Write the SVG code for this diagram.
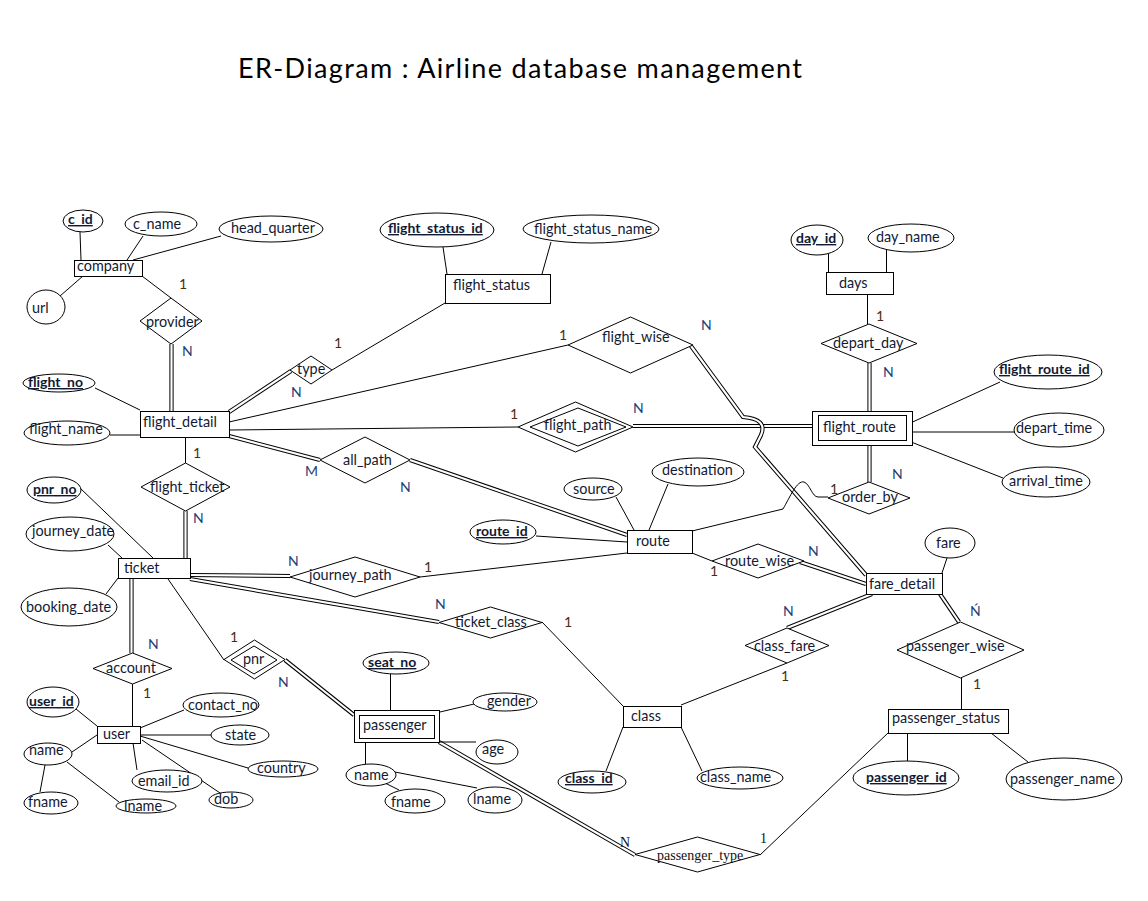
<svg xmlns="http://www.w3.org/2000/svg" xmlns:xlink="http://www.w3.org/1999/xlink" width="1148" height="901" viewBox="0 0 1148 901">
<style>
.s{fill:#fff;stroke:#000;stroke-width:1}
.ln{stroke:#000;stroke-width:1;fill:none}
.dbo{stroke:#000;stroke-width:4.2;fill:none}
.dbi{stroke:#fff;stroke-width:2.2;fill:none}
text{font-family:Lato,"Open Sans","Liberation Sans",sans-serif;font-size:14.4px;fill:#121a33}
.k{font-weight:bold;font-size:14px;text-decoration:underline}
.n{font-size:14px;fill:#1f3f77}
.o{font-size:14px;fill:#4b2e10}
.sf{font-family:"Liberation Serif","Times New Roman",serif;font-size:14px;fill:#111}
.title{font-size:27px;fill:#000}
</style>
<defs>
<path id="d1" d="M171.5,344 V411"/>
<path id="d2" d="M185.5,511 V558"/>
<path id="d3" d="M131.5,578 V653"/>
<path id="d4" d="M229,412 L291,371"/>
<path id="d5" d="M229,436 L320,460"/>
<path id="d6" d="M410,460 L627,535"/>
<path id="d7" d="M633,426 H818"/>
<path id="d8" d="M691,346 L743,417 Q768,419 761,435 L755,447 L866,575"/>
<path id="d9" d="M869.5,363 V411"/>
<path id="d10" d="M869.5,445 V482"/>
<path id="d11" d="M190,575 L290,576"/>
<path id="d12" d="M190,579 L439,622"/>
<path id="d13" d="M285,660 L354,715"/>
<path id="d14" d="M439,742 L635,855"/>
<path id="d15" d="M800,562 L866,584"/>
<path id="d16" d="M872,594 L787,628"/>
<path id="d17" d="M940,594 L959,622"/>
</defs>
<rect width="1148" height="901" fill="#fff"/>
<text class="title" x="238" y="78" textLength="564">ER-Diagram : Airline database management</text>

<g id="connectors">
<use xlink:href="#d1" class="dbo"/><use xlink:href="#d1" class="dbi"/>
<use xlink:href="#d2" class="dbo"/><use xlink:href="#d2" class="dbi"/>
<use xlink:href="#d3" class="dbo"/><use xlink:href="#d3" class="dbi"/>
<use xlink:href="#d4" class="dbo"/><use xlink:href="#d4" class="dbi"/>
<use xlink:href="#d5" class="dbo"/><use xlink:href="#d5" class="dbi"/>
<use xlink:href="#d6" class="dbo"/><use xlink:href="#d6" class="dbi"/>
<use xlink:href="#d7" class="dbo"/><use xlink:href="#d7" class="dbi"/>
<use xlink:href="#d8" class="dbo"/><use xlink:href="#d8" class="dbi"/>
<use xlink:href="#d9" class="dbo"/><use xlink:href="#d9" class="dbi"/>
<use xlink:href="#d10" class="dbo"/><use xlink:href="#d10" class="dbi"/>
<use xlink:href="#d11" class="dbo"/><use xlink:href="#d11" class="dbi"/>
<use xlink:href="#d12" class="dbo"/><use xlink:href="#d12" class="dbi"/>
<use xlink:href="#d13" class="dbo"/><use xlink:href="#d13" class="dbi"/>
<use xlink:href="#d14" class="dbo"/><use xlink:href="#d14" class="dbi"/>
<use xlink:href="#d15" class="dbo"/><use xlink:href="#d15" class="dbi"/>
<use xlink:href="#d16" class="dbo"/><use xlink:href="#d16" class="dbi"/>
<use xlink:href="#d17" class="dbo"/><use xlink:href="#d17" class="dbi"/>
<path class="ln" d="M80,232 L81,260 M143,236 L127,260 M221,236 L133,260 M60,296 L83,276 M142,276 L171,298"/>
<path class="ln" d="M332,370 L445,303 M443,247 L447,274 M551,242 L542,274"/>
<path class="ln" d="M229,422 L568,345 M229,430 L518,427"/>
<path class="ln" d="M95,388 L140,410 M110,435 L140,435 M185.5,437 V463"/>
<path class="ln" d="M80,488 L153,558 M108,545 L122,558 M106,594 L118,578 M168,579 L224,660"/>
<path class="ln" d="M132.5,684 V726 M76,709 L97,726 M72,752 L97,735 M184,710 L140,728 M211,735 H140 M248,768 L140,736 M133,743 L137,770 M142,740 L220,793 M45,765 L40,792 M67,762 L119,802"/>
<path class="ln" d="M390.5,674 V710 M474,704 L440,712 M476,742 H439 M365.5,742 V764 M395,772 L477,788 M385,783 L399,790"/>
<path class="ln" d="M420,577 L627,553 M536,536 L627,542 M616,497 L634,530 M668,484 L649,530 M692,553 L712,561"/>
<path class="ln" d="M692,531 L783,509 C790,497 797,480 804,482 C810,484 812,497 818,497 L828,497"/>
<path class="ln" d="M542,622 L623,706 M681,705 L787,663 M623,727 L606,771 M681,727 L702,771"/>
<path class="ln" d="M828.5,254 V272 M886.5,250 V272 M867.5,294 V324 M906,425 L1000,382 M906,432 H1015 M906,440 L1003,478"/>
<path class="ln" d="M947,558 L942,573 M961.5,678 V709 M907.5,733 V761 M991,733 L1028,762 M888,733 L760,855"/>
</g>

<g id="company"><rect class="s" x="74.5" y="260.5" width="68" height="16"/><text x="77" y="271">company</text></g>
<g id="c_id"><ellipse class="s" cx="83" cy="221" rx="20" ry="11"/><text class="k" x="68" y="224">c_id</text></g>
<g id="c_name"><ellipse class="s" cx="161" cy="224" rx="36" ry="12"/><text x="133" y="229">c_name</text></g>
<g id="head_quarter"><ellipse class="s" cx="271" cy="229" rx="52" ry="13"/><text x="231" y="233">head_quarter</text></g>
<g id="url"><ellipse class="s" cx="46" cy="307" rx="19" ry="17"/><text x="32" y="313">url</text></g>
<g id="provider"><polygon class="s" points="171,298 202,321 171,344 140,321"/><text x="146" y="327">provider</text></g>

<g id="flight_status"><rect class="s" x="445.5" y="274.5" width="105" height="29"/><text x="453" y="290">flight_status</text></g>
<g id="flight_status_id"><ellipse class="s" cx="437" cy="230" rx="57" ry="17"/><text class="k" x="388" y="233">flight_status_id</text></g>
<g id="flight_status_name"><ellipse class="s" cx="591" cy="229" rx="68" ry="14"/><text x="534" y="234">flight_status_name</text></g>
<g id="type"><polygon class="s" points="311,356 332,370 311,384 290,370"/><text x="297" y="374">type</text></g>

<g id="flight_detail"><rect class="s" x="140.5" y="411.5" width="89" height="26"/><text x="143" y="427">flight_detail</text></g>
<g id="flight_no"><ellipse class="s" cx="59" cy="383" rx="36" ry="9"/><text class="k" x="28" y="387">flight_no</text></g>
<g id="flight_name"><ellipse class="s" cx="67" cy="433" rx="43" ry="12"/><text x="29" y="434">flight_name</text></g>
<g id="flight_wise"><polygon class="s" points="630.5,317 693,345 630.5,373 568,345"/><text x="602" y="342">flight_wise</text></g>
<g id="flight_path"><polygon class="s" points="575.5,402 633,427 575.5,452 518,427"/><polygon class="s" points="578,408 626,427 578,446 530,427"/><text x="544" y="430">flight_path</text></g>
<g id="all_path"><polygon class="s" points="365,437 410,460 365,483 320,460"/><text x="343" y="465">all_path</text></g>
<g id="flight_ticket"><polygon class="s" points="185.5,463 230,487 185.5,511 141,487"/><text x="150" y="492">flight_ticket</text></g>

<g id="days"><rect class="s" x="826.5" y="272.5" width="67" height="22"/><text x="839" y="288">days</text></g>
<g id="day_id"><ellipse class="s" cx="817" cy="240" rx="26" ry="15"/><text class="k" x="796" y="243">day_id</text></g>
<g id="day_name"><ellipse class="s" cx="911" cy="238" rx="43" ry="14"/><text x="876" y="242">day_name</text></g>
<g id="depart_day"><polygon class="s" points="869,324 917,343.5 869,363 821,343.5"/><text x="833" y="348">depart_day</text></g>
<g id="flight_route"><rect class="s" x="812.5" y="411.5" width="100" height="34"/><rect class="s" x="818.5" y="415.5" width="88" height="25"/><text x="823" y="432">flight_route</text></g>
<g id="flight_route_id"><ellipse class="s" cx="1048" cy="372" rx="54" ry="17"/><text class="k" x="999" y="374">flight_route_id</text></g>
<g id="depart_time"><ellipse class="s" cx="1059" cy="430" rx="45" ry="17"/><text x="1016" y="433">depart_time</text></g>
<g id="arrival_time"><ellipse class="s" cx="1046" cy="482" rx="44" ry="15"/><text x="1009" y="486">arrival_time</text></g>
<g id="order_by"><polygon class="s" points="869,482 910,498 869,514 828,498"/><text x="842" y="502">order_by</text></g>

<g id="ticket"><rect class="s" x="118.5" y="558.5" width="72" height="20"/><text x="124" y="573">ticket</text></g>
<g id="pnr_no"><ellipse class="s" cx="54" cy="490" rx="27" ry="13"/><text class="k" x="33" y="494">pnr_no</text></g>
<g id="journey_date"><ellipse class="s" cx="70" cy="534" rx="44" ry="17"/><text x="32" y="536">journey_date</text></g>
<g id="booking_date"><ellipse class="s" cx="69" cy="607" rx="48" ry="19"/><text x="26" y="612">booking_date</text></g>
<g id="journey_path"><polygon class="s" points="355,557 420,577 355,597 290,577"/><text x="309" y="580">journey_path</text></g>
<g id="ticket_class"><polygon class="s" points="490.5,607 542,622.5 490.5,638 439,622.5"/><text x="455" y="627">ticket_class</text></g>

<g id="route"><rect class="s" x="627.5" y="530.5" width="65" height="23"/><text x="636" y="546">route</text></g>
<g id="route_id"><ellipse class="s" cx="503" cy="532" rx="33" ry="12"/><text class="k" x="476" y="536">route_id</text></g>
<g id="source"><ellipse class="s" cx="593" cy="489" rx="29" ry="11"/><text x="573" y="494">source</text></g>
<g id="destination"><ellipse class="s" cx="698" cy="472" rx="46" ry="14"/><text x="662" y="475">destination</text></g>
<g id="route_wise"><polygon class="s" points="758,544 804,561 758,578 712,561"/><text x="725" y="566">route_wise</text></g>

<g id="fare_detail"><rect class="s" x="866.5" y="573.5" width="76" height="21"/><text x="869" y="589">fare_detail</text></g>
<g id="fare"><ellipse class="s" cx="950" cy="543" rx="25" ry="15"/><text x="936" y="548">fare</text></g>
<g id="class_fare"><polygon class="s" points="787,628 829,645.5 787,663 745,645.5"/><text x="754" y="651">class_fare</text></g>
<g id="passenger_wise"><polygon class="s" points="960.5,622 1024,650 960.5,678 897,650"/><text x="906" y="651">passenger_wise</text></g>
<g id="passenger_status"><rect class="s" x="888.5" y="709.5" width="120" height="24"/><text x="892" y="723">passenger_status</text></g>
<g id="passenger_id"><ellipse class="s" cx="906" cy="778" rx="53" ry="17"/><text class="k" x="866" y="782">passenger_id</text></g>
<g id="passenger_name"><ellipse class="s" cx="1064" cy="779" rx="58" ry="21"/><text x="1010" y="784">passenger_name</text></g>

<g id="class"><rect class="s" x="623.5" y="706.5" width="58" height="21"/><text x="631" y="721">class</text></g>
<g id="class_id"><ellipse class="s" cx="592" cy="782" rx="34" ry="11"/><text class="k" x="565" y="783">class_id</text></g>
<g id="class_name"><ellipse class="s" cx="740" cy="778" rx="43" ry="11"/><text x="700" y="782">class_name</text></g>
<g id="passenger_type"><polygon class="s" points="697.5,837 760,854.5 697.5,872 635,854.5"/><text class="sf" x="657" y="860">passenger_type</text></g>

<g id="pnr"><polygon class="s" points="254.5,640 285,659.5 254.5,679 224,659.5"/><polygon class="s" points="254,646 277,660 254,674 231,660"/><text x="243" y="664">pnr</text></g>
<g id="account"><polygon class="s" points="132.5,653 172,668.5 132.5,684 93,668.5"/><text x="106" y="673">account</text></g>

<g id="user"><rect class="s" x="97.5" y="726.5" width="43" height="17"/><text x="103" y="739">user</text></g>
<g id="user_id"><ellipse class="s" cx="53" cy="702" rx="26" ry="15"/><text class="k" x="29" y="706">user_id</text></g>
<g id="contact_no"><ellipse class="s" cx="221" cy="705" rx="38" ry="12"/><text x="188" y="710">contact_no</text></g>
<g id="state"><ellipse class="s" cx="240" cy="735" rx="29" ry="10"/><text x="225" y="740">state</text></g>
<g id="country"><ellipse class="s" cx="283" cy="769" rx="35" ry="8"/><text x="257" y="773">country</text></g>
<g id="dob"><ellipse class="s" cx="231" cy="800" rx="22" ry="8"/><text x="214" y="804">dob</text></g>
<g id="email_id"><ellipse class="s" cx="167" cy="781" rx="35" ry="11"/><text x="138" y="786">email_id</text></g>
<g id="user_name"><ellipse class="s" cx="48" cy="754" rx="24" ry="11"/><text x="29" y="755">name</text></g>
<g id="user_fname"><ellipse class="s" cx="51" cy="803" rx="27" ry="11"/><text x="28" y="807">fname</text></g>
<g id="user_lname"><ellipse class="s" cx="146" cy="806" rx="30" ry="7"/><text x="124" y="811">lname</text></g>

<g id="passenger"><rect class="s" x="354.5" y="710.5" width="85" height="32"/><rect class="s" x="359.5" y="715.5" width="75" height="23"/><text x="363" y="730">passenger</text></g>
<g id="seat_no"><ellipse class="s" cx="396" cy="663" rx="33" ry="11"/><text class="k" x="368" y="667">seat_no</text></g>
<g id="gender"><ellipse class="s" cx="505" cy="702" rx="32" ry="9"/><text x="487" y="706">gender</text></g>
<g id="age"><ellipse class="s" cx="497" cy="752" rx="21" ry="12"/><text x="482" y="754">age</text></g>
<g id="p_name"><ellipse class="s" cx="371" cy="775" rx="25" ry="11"/><text x="354" y="780">name</text></g>
<g id="p_fname"><ellipse class="s" cx="415" cy="801" rx="30" ry="12"/><text x="391" y="807">fname</text></g>
<g id="p_lname"><ellipse class="s" cx="495" cy="800" rx="27" ry="13"/><text x="473" y="804">lname</text></g>

<g id="cardinalities">
<text class="o" x="179" y="289">1</text>
<text class="n" x="182" y="356">N</text>
<text class="o" x="334" y="348">1</text>
<text class="n" x="291" y="397">N</text>
<text class="o" x="559" y="340">1</text>
<text class="n" x="701" y="330">N</text>
<text class="o" x="510" y="419">1</text>
<text class="n" x="633" y="413">N</text>
<text class="n" x="305" y="476">M</text>
<text class="n" x="400" y="492">N</text>
<text class="o" x="193" y="458">1</text>
<text class="n" x="193" y="523">N</text>
<text class="n" x="288" y="566">N</text>
<text class="o" x="424" y="572">1</text>
<text class="n" x="435" y="609">N</text>
<text class="o" x="564" y="627">1</text>
<text class="o" x="230" y="642">1</text>
<text class="n" x="278" y="687">N</text>
<text class="n" x="148" y="649">N</text>
<text class="o" x="143" y="698">1</text>
<text class="o" x="876" y="321">1</text>
<text class="n" x="883" y="377">N</text>
<text class="n" x="892" y="479">N</text>
<text class="o" x="830" y="494">1</text>
<text class="o" x="710" y="576">1</text>
<text class="n" x="808" y="556">N</text>
<text class="n" x="783" y="616">N</text>
<text class="o" x="781" y="681">1</text>
<text class="n" x="970" y="616">Ń</text>
<text class="o" x="973" y="689">1</text>
<text class="sf" x="620" y="847">N</text>
<text class="sf" x="760" y="843">1</text>
</g>
</svg>
